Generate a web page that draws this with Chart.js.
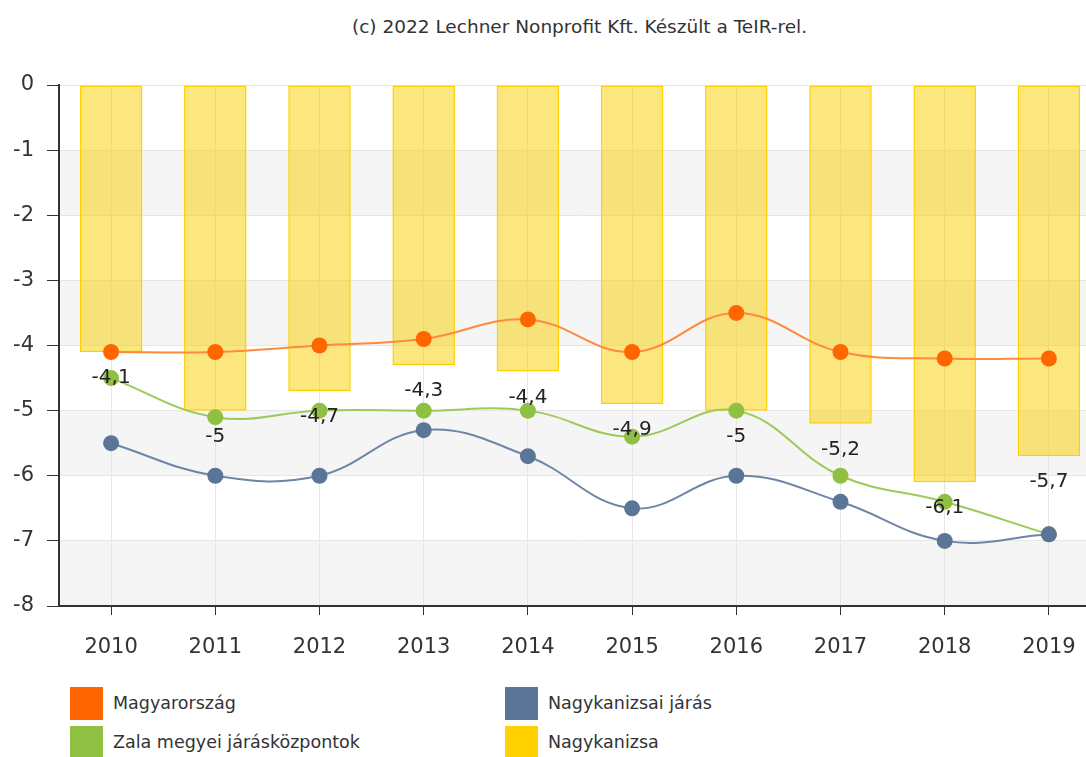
<!DOCTYPE html>
<html>
<head>
<meta charset="utf-8">
<script src="https://cdn.jsdelivr.net/npm/chart.js@4"></script>
<style>
    body { margin: 0; overflow: hidden; background: #fff; font-family: "DejaVu Sans", sans-serif; }
    #title { position: absolute; top: 16px; left: 59px; width: 1041px; text-align: center; font-size: 18.5px; color: #333; }
    #wrap { position: absolute; top: 0; left: 0; width: 1109px; height: 670px; }
    #legend { position: absolute; top: 687px; left: 70px; width: 900px; }
    .item { position: absolute; height: 33px; line-height: 33px; font-size: 17.5px; color: #333; white-space: nowrap; }
    .box { display: inline-block; width: 33px; height: 33px; vertical-align: top; margin-right: 10px; }
</style>
</head>
<body>
<div id="title">(c) 2022 Lechner Nonprofit Kft. Készült a TeIR-rel.</div>
<div id="wrap"><canvas id="miGrafico" width="1109" height="670"></canvas></div>
<div id="legend"></div>
<script>
const evek = ['2010', '2011', '2012', '2013', '2014', '2015', '2016', '2017', '2018', '2019'];
const magyarorszag = [-4.1, -4.1, -4.0, -3.9, -3.6, -4.1, -3.5, -4.1, -4.2, -4.2];
const jaras = [-5.5, -6.0, -6.0, -5.3, -5.7, -6.5, -6.0, -6.4, -7.0, -6.9];
const zala = [-4.5, -5.1, -5.0, -5.0, -5.0, -5.4, -5.0, -6.0, -6.4, -6.9];
const nagykanizsa = [-4.1, -5.0, -4.7, -4.3, -4.4, -4.9, -5.0, -5.2, -6.1, -5.7];
const yTicks = [0, -1, -2, -3, -4, -5, -6, -7, -8];

const sorozatok = [
    { nev: 'Magyarország', szin: '#ff6600', vonal: '#ff8a3d', adat: magyarorszag },
    { nev: 'Nagykanizsai járás', szin: '#5b7597', vonal: '#6d86a6', adat: jaras },
    { nev: 'Zala megyei járásközpontok', szin: '#8fc043', vonal: '#9dc95a', adat: zala }
];

// savok a hatterben
const savok = {
    id: 'savok',
    beforeDraw(chart) {
        const ctx = chart.ctx, a = chart.chartArea, y = chart.scales.y;
        ctx.save();
        ctx.fillStyle = '#f5f5f5';
        for (let v = -1; v > -8; v -= 2) {
            const y1 = y.getPixelForValue(v), y2 = y.getPixelForValue(v - 1);
            ctx.fillRect(a.left, y1, a.right - a.left, y2 - y1);
        }
        ctx.restore();
    }
};

const cimkek = {
    id: 'cimkek',
    afterDatasetsDraw(chart) {
        const ctx = chart.ctx;
        const meta = chart.getDatasetMeta(3);
        ctx.save();
        ctx.font = '20px "DejaVu Sans"';
        ctx.fillStyle = '#222';
        ctx.textAlign = 'center';
        ctx.textBaseline = 'middle';
        meta.data.forEach((bar, i) => {
            ctx.fillText(String(nagykanizsa[i]).replace('.', ','), bar.x, bar.y + 26);
        });
        ctx.restore();
    }
};

const datasets = sorozatok.map(s => ({
    type: 'line',
    label: s.nev,
    data: s.adat,
    borderColor: s.vonal,
    backgroundColor: s.szin,
    pointBackgroundColor: s.szin,
    pointBorderWidth: 0,
    pointRadius: 8,
    borderWidth: 2,
    tension: 0.4,
    order: 0
}));
datasets.push({
    type: 'bar',
    label: 'Nagykanizsa',
    data: nagykanizsa,
    backgroundColor: 'rgba(250, 208, 0, 0.5)',
    borderColor: '#ffd000',
    borderWidth: 1.5,
    borderSkipped: false,
    barPercentage: 0.6,
    categoryPercentage: 1,
    order: 1
});

const grafico = new Chart(document.getElementById('miGrafico'), {
    data: { labels: evek, datasets: datasets },
    options: {
        responsive: false,
        animation: false,
        layout: { padding: { top: 85, right: 1, left: 0, bottom: 0 } },
        plugins: { legend: { display: false }, tooltip: { enabled: false } },
        scales: {
            x: {
                afterFit(s) { s.height = 64; },
                grid: { offset: false, color: '#e6e6e6', tickColor: '#333', tickLength: 9 },
                border: { color: '#333', width: 2 },
                ticks: { color: '#333', padding: 20, font: { family: 'DejaVu Sans', size: 21 } }
            },
            y: {
                min: -8, max: 0,
                afterFit(s) { s.width = 59; },
                afterBuildTicks(s) { s.ticks = yTicks.map(v => ({ value: v })); },
                grid: { color: '#e6e6e6', tickColor: '#333', tickLength: 12 },
                border: { color: '#333', width: 2 },
                ticks: { color: '#333', padding: 13, font: { family: 'DejaVu Sans', size: 21 } }
            }
        }
    },
    plugins: [savok, cimkek]
});

// jelmagyarazat
const legend = document.getElementById('legend');
const elemek = [
    { nev: 'Magyarország', szin: '#ff6600', x: 0, y: 0 },
    { nev: 'Nagykanizsai járás', szin: '#5b7597', x: 435, y: 0 },
    { nev: 'Zala megyei járásközpontok', szin: '#8fc043', x: 0, y: 39 },
    { nev: 'Nagykanizsa', szin: '#ffd200', x: 435, y: 39 }
];
for (let item of elemek) {
    const d = document.createElement('div');
    d.className = 'item';
    d.style.left = item.x + 'px';
    d.style.top = item.y + 'px';
    d.innerHTML = '<span class="box" style="background:' + item.szin + '"></span>' + item.nev;
    legend.appendChild(d);
}
</script>
</body>
</html>
